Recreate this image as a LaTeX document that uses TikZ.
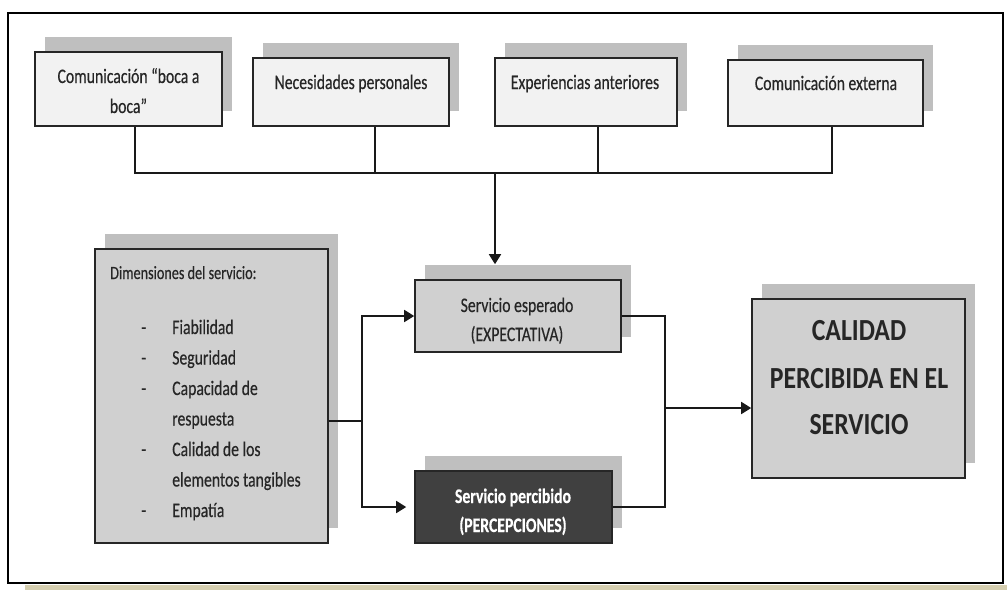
\documentclass[tikz,border=0pt]{standalone}
\usepackage{fontspec}
\setmainfont{Carlito}[FakeStretch=0.76, FakeBold=0.4]
\newfontfamily\headingfont{Carlito}[FakeStretch=0.84]
\usetikzlibrary{arrows.meta,shadows,fit}

\definecolor{boxlight}{HTML}{F2F2F2}
\definecolor{boxmid}{HTML}{D0D0D0}
\definecolor{boxdark}{HTML}{404040}
\definecolor{shadowgray}{HTML}{BFBFBF}
\definecolor{textc}{HTML}{262626}
\definecolor{strip}{HTML}{D5CEAF}

\tikzset{
  outerframe/.style={draw=black, line width=2pt},
  boxbase/.style={draw=black!85, line width=1.2pt, inner sep=0pt},
  shadowed/.style={drop shadow={shadow xshift=7.5pt, shadow yshift=11.25pt,
      fill=shadowgray, opacity=1}},
  lightbox/.style={boxbase, shadowed, fill=boxlight},
  midbox/.style={boxbase, shadowed, fill=boxmid},
  darkbox/.style={boxbase, shadowed, fill=boxdark},
  conn/.style={draw=black!90, line width=1.3pt},
  arrowconn/.style={conn, -{Triangle[length=7.5pt,width=9pt]}},
  txt/.style={anchor=base, inner sep=0pt, text=textc,
      font=\fontsize{15.5}{18}\selectfont},
  txtl/.style={txt, anchor=base west},
  txthead/.style={txtl, font=\fontsize{14}{17}\selectfont},
  txtw/.style={txt, text=white, font=\fontsize{15.5}{18}\selectfont\bfseries},
  txtbig/.style={txt, font=\headingfont\fontsize{23}{27}\selectfont\bfseries},
}

\begin{document}
\begin{tikzpicture}[x=0.75pt,y=-0.75pt]
  % canvas
  \useasboundingbox (0,0) rectangle (1007,590);
  \fill[white] (0,0) rectangle (1007,590);
  \fill[strip] (25,585) rectangle (1007,590);

  % top row of influences
  \node[lightbox, fit={(35,52) (222,126)}] (b1) {};
  \node[lightbox, fit={(253,58) (449,126)}] (b2) {};
  \node[lightbox, fit={(495,58) (677,126)}] (b3) {};
  \node[lightbox, fit={(728,60) (923,126)}] (b4) {};

  \node[txt] (b1a) at (128.5,83) {Comunicación “boca a};
  \node[txt] (b1b) at (128.5,113) {boca”};
  \node[txt] (b2a) at (351,89) {Necesidades personales};
  \node[txt] (b3a) at (585,89) {Experiencias anteriores};
  \node[txt] (b4a) at (826,90) {Comunicación externa};

  % service dimensions
  \node[midbox, fit={(95,249) (328,543)}] (dim) {};
  \node[txthead] (dh) at (110,279) {Dimensiones del servicio:};
  \foreach \yy/\lbl/\hasdash [count=\i] in {
      334/Fiabilidad/1, 364.5/Seguridad/1, 395/Capacidad de/1,
      425.5/respuesta/0, 456/Calidad de los/1, 486.5/elementos tangibles/0,
      517/Empatía/1}{
    \node[txtl] (di\i) at (172,\yy) {\lbl};
    \ifnum\hasdash=1 \node[txtl] (dd\i) at (141,\yy) {-};\fi
  }

  % expected and perceived service
  \node[midbox, fit={(415,280) (621,352)}] (esp) {};
  \node[txt] (e1) at (517,312) {Servicio esperado};
  \node[txt] (e2) at (517,341) {(EXPECTATIVA)};

  \node[darkbox, fit={(415,471) (612,543)}] (per) {};
  \node[txtw] (p1) at (513,503) {Servicio percibido};
  \node[txtw] (p2) at (513,532) {(PERCEPCIONES)};

  % perceived quality
  \node[midbox, fit={(752,299) (965,478)}] (cal) {};
  \node[txtbig] (c1) at (859,340) {CALIDAD};
  \node[txtbig] (c2) at (859,388) {PERCIBIDA EN EL};
  \node[txtbig] (c3) at (859,434) {SERVICIO};

  % collector bus from the top boxes
  \coordinate (j1) at (135,173);
  \coordinate (j2) at (375,173);
  \coordinate (j3) at (598,173);
  \coordinate (j4) at (832,173);
  \coordinate (jm) at (495,173);
  \coordinate (espTop) at ([yshift=11.25pt]esp.north);
  \draw[conn] (b1.south -| j1) -- (j1) -- (j4) -- (b4.south -| j4);
  \draw[conn] (b2.south -| j2) -- (j2);
  \draw[conn] (b3.south -| j3) -- (j3);
  \draw[arrowconn] (jm) -- (espTop -| jm);

  % dimensions feed both services
  \coordinate (split) at (362,421);
  \draw[conn] (dim.east |- split) -- (split);
  \draw[arrowconn] (split) |- (esp.west);
  \draw[arrowconn, shorten >=6pt] (split) |- (per.west);

  % gap between expectation and perception
  \coordinate (merge) at (665,408);
  \draw[conn] (esp.east) -| (merge);
  \draw[conn] (per.east) -| (merge);
  \draw[arrowconn] (merge) -- (cal.west |- merge);

  % outer frame
  \draw[outerframe] (8,13) rectangle (1003,583);
\end{tikzpicture}
\end{document}
